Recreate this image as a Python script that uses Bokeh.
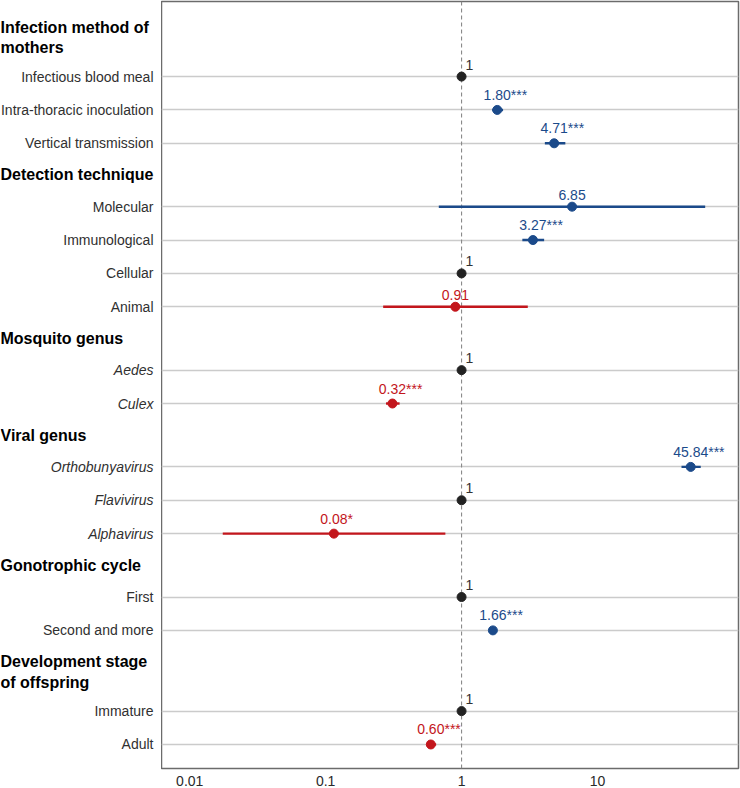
from bokeh.plotting import figure
from bokeh.layouts import row
from bokeh.models import Range1d, FixedTicker, Span, Grid, ColumnDataSource
from bokeh.embed import file_html
from bokeh.resources import INLINE
from bokeh.core.properties import value

# ---------------- data ----------------
group_titles = ["Infection method of\nmothers", "Detection technique", "Mosquito genus",
                "Viral genus", "Gonotrophic cycle", "Development stage\nof offspring"]
group_items = [
    ["Infectious blood meal", "Intra-thoracic inoculation", "Vertical transmission"],
    ["Molecular", "Immunological", "Cellular", "Animal"],
    ["Aedes", "Culex"],
    ["Orthobunyavirus", "Flavivirus", "Alphavirus"],
    ["First", "Second and more"],
    ["Immature", "Adult"],
]
italic_items = ["Aedes", "Culex", "Orthobunyavirus", "Flavivirus", "Alphavirus"]

odds    = [1, 1.83, 4.8, 6.5, 3.35, 1, 0.90, 1, 0.31, 48.5, 1, 0.115, 1, 1.70, 1, 0.594]
ci_low  = [None, 1.68, 4.1, 0.68, 2.8, None, 0.265, None, 0.278, 41.5, None, 0.0175, None, 1.62, None, 0.555]
ci_high = [None, 2.02, 5.8, 62.0, 4.05, None, 3.07, None, 0.35, 57.5, None, 0.76, None, 1.78, None, 0.65]
value_labels = ["1", "1.80***", "4.71***", "6.85", "3.27***", "1", "0.91", "1", "0.32***",
                "45.84***", "1", "0.08*", "1", "1.66***", "1", "0.60***"]
effect = ["ref", "up", "up", "up", "up", "ref", "down", "ref", "down", "up", "ref", "down",
          "ref", "up", "ref", "down"]

x_ticks = [0.01, 0.1, 1, 10]
x_tick_labels = ["0.01", "0.1", "1", "10"]

# ---------------- styles ----------------
FONT = "Liberation Sans"
colors = {"up": "#1b4a8a", "down": "#c3161c", "ref": "#222222"}
label_colors = {"up": "#1b4a8a", "down": "#c3161c", "ref": "#333333"}
LABEL_SIZE = 14

# ---------------- layout of rows ----------------
header_y, item_y, item_names = [], [], []
pos = -0.17
for title, items in zip(group_titles, group_items):
    two_lines = "\n" in title
    pos += 1.25 if two_lines else 0.95
    header_y.append(pos)
    pos += (1.17 if two_lines else 0.95) - 1.0
    for it in items:
        pos += 1.0
        item_y.append(pos)
        item_names.append(it)
bottom = pos + 0.72

W_LEFT, W_RIGHT, H = 161, 579, 788
BOTTOM_BORDER = 18

yr = Range1d(bottom, 0)

# ---------------- left label panel ----------------
left = figure(width=W_LEFT, height=H, x_range=Range1d(0, W_LEFT), y_range=yr,
              output_backend="svg", toolbar_location=None,
              x_axis_location=None, y_axis_location=None,
              min_border_left=0, min_border_right=0, min_border_top=0,
              min_border_bottom=BOTTOM_BORDER)
left.outline_line_color = None
left.grid.visible = False

left.text(x=[0] * len(group_titles), y=header_y, text=group_titles,
          text_font=value(FONT), text_font_size="16px", text_font_style="bold",
          text_color="#000000", text_align="left", text_baseline="middle",
          text_line_height=1.2)

item_src = ColumnDataSource(dict(
    x=[W_LEFT - 8] * len(item_names), y=item_y, text=item_names,
    style=["italic" if n in italic_items else "normal" for n in item_names]))
left.text(x="x", y="y", text="text", source=item_src,
          text_font=value(FONT), text_font_size="14px", text_font_style="style",
          text_color="#303030", text_align="right", text_baseline="middle")

# ---------------- right forest panel ----------------
right = figure(width=W_RIGHT, height=H, x_axis_type="log",
               x_range=Range1d(0.0062, 109), y_range=yr,
               output_backend="svg", toolbar_location=None,
               y_axis_location=None,
               min_border_left=0, min_border_right=2, min_border_top=1,
               min_border_bottom=BOTTOM_BORDER)
right.outline_line_color = "#6b6b6b"
right.outline_line_width = 1.5
right.xgrid.visible = False
right.ygrid.visible = False

right.add_layout(Grid(dimension=1, ticker=FixedTicker(ticks=item_y),
                      grid_line_color="#cbcbcb", grid_line_width=1.3))

right.xaxis.ticker = FixedTicker(ticks=x_ticks)
right.xaxis.major_label_overrides = {t: l for t, l in zip(x_ticks, x_tick_labels)}
right.xaxis.axis_line_color = None
right.xaxis.major_tick_line_color = None
right.xaxis.minor_tick_line_color = None
right.xaxis.major_label_text_font = FONT
right.xaxis.major_label_text_font_size = "14px"
right.xaxis.major_label_text_color = "#2a2a2a"
right.xaxis.major_label_standoff = 1

right.add_layout(Span(location=1, dimension="height", line_color="#8a8a8a",
                      line_dash="4 3", line_width=1.1, level="underlay"))

ci_idx = [i for i in range(len(odds)) if ci_low[i] is not None]
ci_src = ColumnDataSource(dict(
    x0=[ci_low[i] for i in ci_idx], x1=[ci_high[i] for i in ci_idx],
    y=[item_y[i] for i in ci_idx], c=[colors[effect[i]] for i in ci_idx]))
right.segment(x0="x0", x1="x1", y0="y", y1="y", source=ci_src,
              line_color="c", line_width=2.4)

pt_src = ColumnDataSource(dict(x=odds, y=item_y, c=[colors[e] for e in effect]))
right.scatter(x="x", y="y", source=pt_src, size=9, fill_color="c", line_color="c")


def num_width(s):
    num = s.rstrip("*")
    return sum(0.556 if ch.isdigit() else 0.278 for ch in num) * LABEL_SIZE


lab_src = ColumnDataSource(dict(
    x=odds, y=item_y, text=value_labels,
    c=[label_colors[e] for e in effect],
    xo=[4 if e == "ref" else -num_width(t) / 2 for t, e in zip(value_labels, effect)]))
right.text(x="x", y="y", text="text", source=lab_src, x_offset="xo", y_offset=-7,
           text_font=value(FONT), text_font_size=f"{LABEL_SIZE}px",
           text_color="c", text_align="left", text_baseline="bottom")

layout = row(left, right)
open("out.html", "w").write(file_html(layout, INLINE))
